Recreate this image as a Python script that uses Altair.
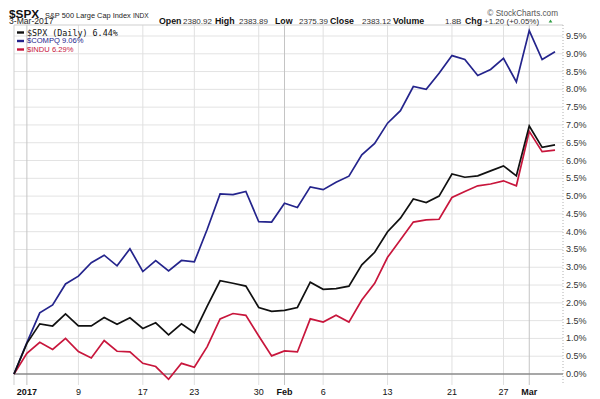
import altair as alt
import pandas as pd

# ---------------- data ----------------
# trading-day index: 0 = 30-Dec-2016 ... 42 = 3-Mar-2017
day_index = list(range(43))

spx = [0.00, 0.86, 1.41, 1.35, 1.69, 1.35, 1.35, 1.59, 1.40, 1.58,
       1.28, 1.44, 1.10, 1.41, 1.16, 1.91, 2.62, 2.55, 2.47, 1.87,
       1.76, 1.79, 1.87, 2.58, 2.38, 2.40, 2.47, 3.07, 3.42, 4.00,
       4.38, 4.92, 4.82, 5.00, 5.62, 5.53, 5.57, 5.71, 5.85, 5.57,
       6.97, 6.37, 6.44]

compq = [0.00, 0.88, 1.72, 1.94, 2.53, 2.75, 3.13, 3.34, 3.04, 3.52,
         2.88, 3.19, 2.90, 3.19, 3.15, 4.07, 5.06, 5.04, 5.13, 4.28,
         4.27, 4.80, 4.68, 5.26, 5.18, 5.39, 5.56, 6.16, 6.48, 7.05,
         7.40, 8.08, 8.00, 8.45, 8.95, 8.84, 8.39, 8.56, 8.87, 8.21,
         9.65, 8.84, 9.06]

indu = [0.00, 0.58, 0.89, 0.69, 1.00, 0.63, 0.45, 0.94, 0.64, 0.62,
        0.30, 0.21, -0.15, 0.30, 0.19, 0.77, 1.55, 1.70, 1.65, 1.07,
        0.51, 0.65, 0.62, 1.55, 1.46, 1.65, 1.46, 2.08, 2.55, 3.28,
        3.77, 4.27, 4.33, 4.35, 4.96, 5.13, 5.29, 5.34, 5.43, 5.29,
        6.82, 6.25, 6.29]

series_names = ["$SPX", "$COMPQ", "$INDU"]
series_colors = ["#111111", "#24248c", "#c8163c"]
legend_texts = ["$SPX (Daily) 6.44%", "$COMPQ 9.06%", "$INDU 6.29%"]

tick_idx = [1, 5, 10, 14, 19, 21, 24, 29, 34, 38, 40]
tick_labels = ["2017", "9", "17", "23", "30", "Feb", "6", "13", "21", "27", "Mar"]
bold_labels = ["2017", "Feb", "Mar"]

y_ticks = [0.0, 0.5, 1.0, 1.5, 2.0, 2.5, 3.0, 3.5, 4.0, 4.5,
           5.0, 5.5, 6.0, 6.5, 7.0, 7.5, 8.0, 8.5, 9.0, 9.5]

title_symbol = "$SPX"
title_name = "S&P 500 Large Cap Index"
title_exchange = "INDX"
title_date = "3-Mar-2017"
quote_labels = ["Open", "High", "Low", "Close", "Volume", "Chg"]
quote_values = ["2380.92", "2383.89", "2375.39", "2383.12", "1.8B", "+1.20 (+0.05%)"]
credit = "\u00a9 StockCharts.com"

# ---------------- layout ----------------
W, H = 549, 360
SANS = "Liberation Sans, Arial, sans-serif"
MONO = "DejaVu Sans Mono, monospace"

xs = alt.Scale(domain=[0, 42.62], nice=False, zero=False)
ys = alt.Scale(domain=[-0.309, 9.809], nice=False, zero=False)

one = pd.DataFrame({"a": [0]})


def txt(s, x, y, size, weight="normal", color="#222222", font=SANS, align="left"):
    return alt.Chart(pd.DataFrame({"t": [s]})).mark_text(
        align=align, baseline="alphabetic", font=font, fontSize=size,
        fontWeight=weight, color=color
    ).encode(x=alt.value(x), y=alt.value(y), text="t:N")


layers = []

# horizontal grid
hgrid = alt.Chart(pd.DataFrame({"v": y_ticks[1:]})).mark_rule(
    color="#e3e3e3", strokeWidth=1
).encode(y=alt.Y("v:Q", scale=ys, axis=None))
layers.append(hgrid)

# vertical grid (carries the bottom axis ticks + bottom frame)
tick_df = pd.DataFrame({"i": tick_idx, "lab": tick_labels})
tick_df["bold"] = tick_df["lab"].isin(bold_labels)
vgrid = alt.Chart(tick_df[~tick_df["bold"]]).mark_rule(
    color="#e0e0e0", strokeWidth=1
).encode(
    x=alt.X("i:Q", scale=xs, axis=alt.Axis(
        values=day_index, labels=False, ticks=True, tickSize=3,
        tickColor="#bbbbbb", domain=True, domainColor="#c8c8c8",
        grid=False, title=None))
)
layers.append(vgrid)
vgrid_major = alt.Chart(tick_df[tick_df["bold"]]).mark_rule(
    color="#c4c4c4", strokeWidth=1
).encode(x=alt.X("i:Q", scale=xs, axis=None))
layers.append(vgrid_major)

# frame: top, left (solid) and right (dotted)
layers.append(alt.Chart(one).mark_rule(color="#cfcfcf", strokeWidth=1).encode(
    x=alt.value(0), x2=alt.value(W), y=alt.value(0)))
layers.append(alt.Chart(one).mark_rule(color="#cfcfcf", strokeWidth=1).encode(
    x=alt.value(0), y=alt.value(0), y2=alt.value(H)))
layers.append(alt.Chart(one).mark_rule(color="#b0b0b0", strokeWidth=1,
                                       strokeDash=[1, 2]).encode(
    x=alt.value(W), y=alt.value(0), y2=alt.value(H)))

# zero line
zero_line = alt.Chart(pd.DataFrame({"v": [0.0]})).mark_rule(
    color="#8a8a8a", strokeWidth=1.3
).encode(y=alt.Y("v:Q", scale=ys, axis=None))
layers.append(zero_line)

# series lines (INDU, COMPQ, then SPX on top)
for vals, col in [(indu, series_colors[2]), (compq, series_colors[1]), (spx, series_colors[0])]:
    d = pd.DataFrame({"i": day_index, "v": vals})
    layers.append(
        alt.Chart(d).mark_line(color=col, strokeWidth=1.7).encode(
            x=alt.X("i:Q", scale=xs, axis=None),
            y=alt.Y("v:Q", scale=ys, axis=None))
    )

# right-hand percentage labels
ylab_df = pd.DataFrame({"v": y_ticks, "lab": [f"{v:.1f}%" for v in y_ticks]})
layers.append(
    alt.Chart(ylab_df).mark_text(
        align="left", baseline="middle", font=SANS, fontSize=9, color="#333333"
    ).encode(x=alt.value(W + 3), y=alt.Y("v:Q", scale=ys, axis=None), text="lab:N")
)

# bottom tick labels
for is_bold in [False, True]:
    sub = tick_df[tick_df["bold"] == is_bold]
    layers.append(
        alt.Chart(sub).mark_text(
            align="center", baseline="middle", font=SANS, fontSize=9,
            fontWeight="bold" if is_bold else "normal", color="#111111"
        ).encode(x=alt.X("i:Q", scale=xs, axis=None), y=alt.value(H + 7), text="lab:N")
    )

# in-chart legend
legend_y = [7.5, 16.0, 24.5]
legend_fonts = [(MONO, 8.4), (SANS, 7.6), (SANS, 7.6)]
for k in range(3):
    layers.append(
        alt.Chart(one).mark_rule(color=series_colors[k], strokeWidth=2.4).encode(
            x=alt.value(3), x2=alt.value(10), y=alt.value(legend_y[k]))
    )
    f, s = legend_fonts[k]
    layers.append(
        alt.Chart(pd.DataFrame({"t": [legend_texts[k]]})).mark_text(
            align="left", baseline="middle", font=f, fontSize=s,
            color=series_colors[k]
        ).encode(x=alt.value(13), y=alt.value(legend_y[k]), text="t:N")
    )

# header
layers.append(txt(title_symbol, -5, -7.2, 11.8, weight="bold", color="#111111"))
layers.append(txt(title_name, 31, -7.5, 7.4, color="#222222"))
layers.append(txt(title_exchange, 119, -7.5, 6.6, color="#222222"))
layers.append(txt(title_date, -5, -1.0, 8.6, color="#222222"))
layers.append(txt(credit, 544, -9.0, 8.2, color="#555555", align="right"))

label_x = [145, 201, 261, 316, 379, 451]
value_x = [169, 225, 285, 348, 431, 484 - 14]
for lab, lx in zip(quote_labels, label_x):
    layers.append(txt(lab, lx, -1.0, 8.8, weight="bold", color="#111111"))
for val, vx in zip(quote_values, value_x):
    layers.append(txt(val, vx, -1.0, 8.0, color="#333333"))

layers.append(
    alt.Chart(one).mark_point(shape="triangle-up", filled=True, color="#2f9e44",
                              size=14, opacity=1).encode(
        x=alt.value(536.5), y=alt.value(-4.0))
)

chart = alt.layer(*layers).properties(
    width=W, height=H,
    padding={"left": 6, "top": 17, "right": 29, "bottom": 14},
    autosize=alt.AutoSizeParams(type="none"),
    background="white",
).configure_view(strokeWidth=0)

chart.save("out.html", embed_options={"renderer": "svg", "actions": False})
